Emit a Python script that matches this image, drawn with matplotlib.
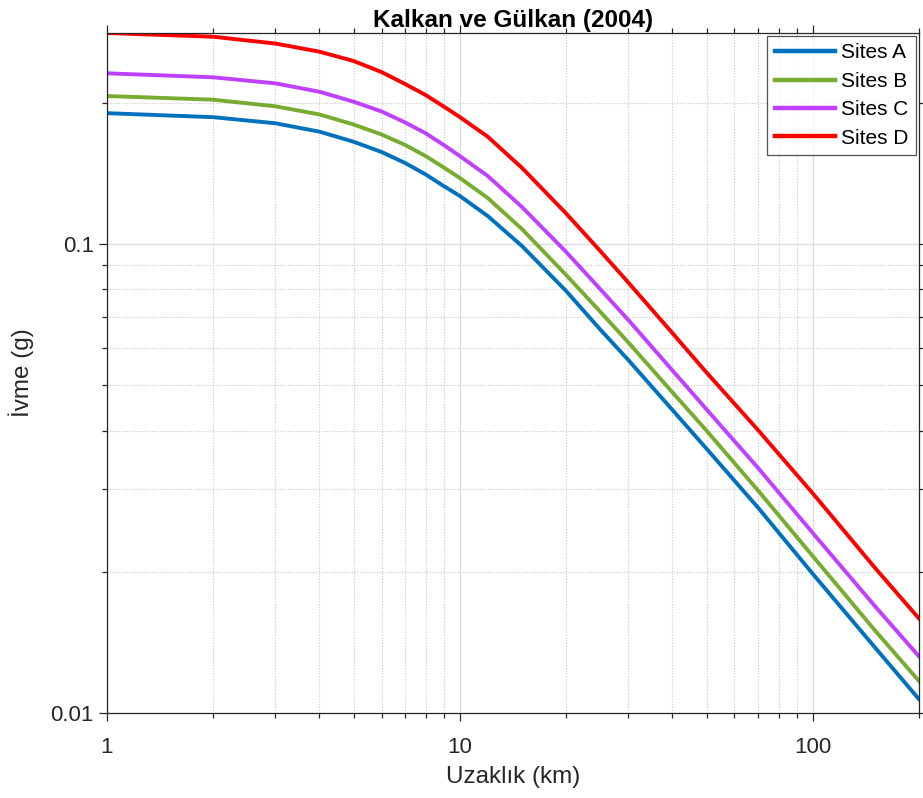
import matplotlib
matplotlib.use("Agg")
import matplotlib.pyplot as plt
from matplotlib.ticker import FixedLocator, FixedFormatter, LogLocator, NullFormatter

plt.rcParams['font.family'] = ['Liberation Sans', 'DejaVu Sans']

# distances (km)
distance = [1, 2, 3, 4, 5, 6, 7, 8, 9, 10, 12, 15, 20, 25, 30, 40, 50, 70, 100, 150, 200]

# PGA (g) per site class
sites_a = [0.1901, 0.1864, 0.1809, 0.1736, 0.1652, 0.1571, 0.1488, 0.1407, 0.1329, 0.1266,
           0.1147, 0.0990, 0.0794, 0.0657, 0.0566, 0.0443, 0.0366, 0.0274, 0.0198, 0.0138, 0.0107]
sites_b = [0.2068, 0.2031, 0.1966, 0.1889, 0.1798, 0.1712, 0.1626, 0.1540, 0.1456, 0.1383,
           0.1253, 0.1076, 0.0859, 0.0717, 0.0617, 0.0483, 0.0400, 0.0298, 0.0216, 0.0150, 0.0117]
sites_c = [0.2312, 0.2267, 0.2201, 0.2112, 0.2011, 0.1917, 0.1816, 0.1722, 0.1626, 0.1540,
           0.1396, 0.1199, 0.0962, 0.0801, 0.0689, 0.0538, 0.0444, 0.0333, 0.0242, 0.0169, 0.0132]
sites_d = [0.2818, 0.2767, 0.2676, 0.2571, 0.2456, 0.2326, 0.2193, 0.2078, 0.1964, 0.1865,
           0.1693, 0.1453, 0.1162, 0.0966, 0.0828, 0.0646, 0.0532, 0.0401, 0.0294, 0.0204, 0.0159]

labels = ["Sites A", "Sites B", "Sites C", "Sites D"]
colors = ["#0072BD", "#77AC30", "#BF40FF", "#FF0000"]

fig = plt.figure(figsize=(9.23, 7.98), dpi=100)
ax = fig.add_axes([107 / 923, 1 - 713 / 798, 812 / 923, 680 / 798])

for series, lab, col in zip([sites_a, sites_b, sites_c, sites_d], labels, colors):
    ax.plot(distance, series, color=col, lw=2.8, label=lab, solid_joinstyle="round")

ax.set_xscale("log")
ax.set_yscale("log")
ax.set_xlim(1, 200)
ax.set_ylim(0.01, max(sites_d))

ax.xaxis.set_major_locator(FixedLocator([1, 10, 100]))
ax.xaxis.set_major_formatter(FixedFormatter(["1", "10", "100"]))
ax.yaxis.set_major_locator(FixedLocator([0.01, 0.1]))
ax.yaxis.set_major_formatter(FixedFormatter(["0.01", "0.1"]))
for axis in (ax.xaxis, ax.yaxis):
    axis.set_minor_locator(LogLocator(base=10, subs=range(2, 10), numticks=20))
    axis.set_minor_formatter(NullFormatter())

ax.grid(True, which="major", color="#dcdcdc", lw=0.9, ls="-")
ax.grid(True, which="minor", color="#c8c8c8", lw=0.8, ls=(0, (1, 1.5)))
ax.set_axisbelow(True)

ax.tick_params(which="both", direction="out", top=True, right=True,
               colors="#262626", labelsize=16, width=0.9)
ax.tick_params(which="major", length=6)
ax.tick_params(which="minor", length=3.5)
ax.tick_params(axis="x", which="major", pad=11)
for sp in ax.spines.values():
    sp.set_color("#262626")
    sp.set_linewidth(0.9)

ax.set_xlabel("Uzaklık (km)", fontsize=17.5, color="#262626", labelpad=6)
ax.set_ylabel("İvme (g)", fontsize=17.5, color="#262626", labelpad=12)
ax.set_title("Kalkan ve Gülkan (2004)", fontsize=17.5, fontweight="bold", pad=4)

leg = ax.legend(loc="upper right", fontsize=15, frameon=True, fancybox=False,
                borderaxespad=0.15, handlelength=2.9, handletextpad=0.3,
                labelspacing=0.45, borderpad=0.35)
leg.get_frame().set_edgecolor("#262626")
leg.get_frame().set_linewidth(0.9)
for line in leg.get_lines():
    line.set_linewidth(3.2)

fig.savefig("out.png", dpi=100)
